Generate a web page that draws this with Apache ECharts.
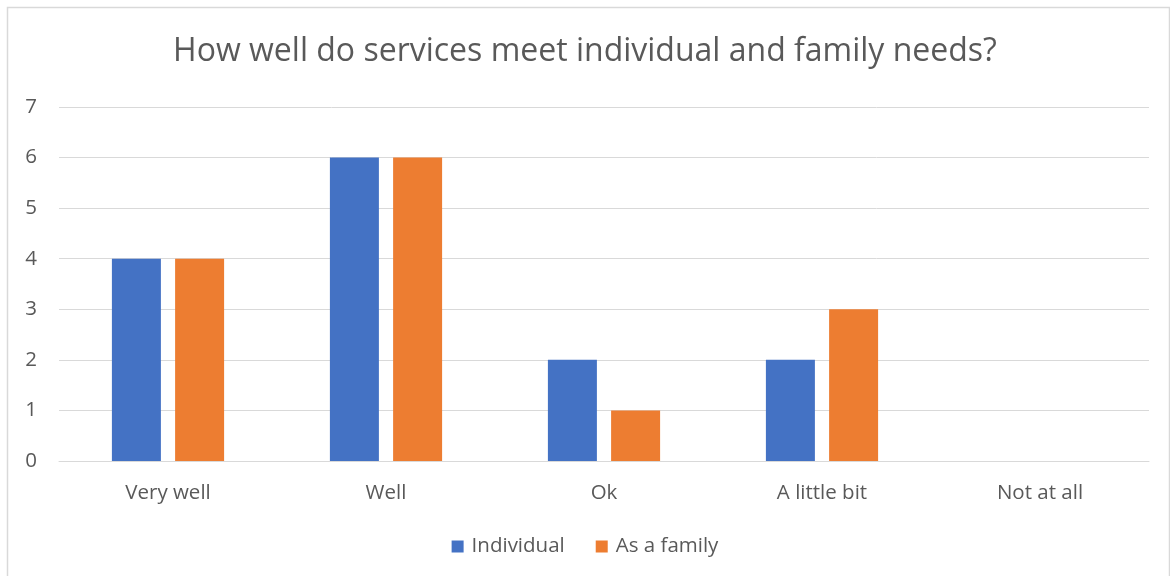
<!DOCTYPE html>
<html>
<head>
<meta charset="utf-8">
<script src="https://cdn.jsdelivr.net/npm/echarts@6/dist/echarts.min.js"></script>
<style>
  html, body { margin: 0; padding: 0; background: #fff; }
  #chart { width: 1170px; height: 576px; }
</style>
</head>
<body>
<div id="chart"></div>
<script>
const titleText = 'How well do services meet individual and family needs?';
const categories = ['Very well', 'Well', 'Ok', 'A little bit', 'Not at all'];
const seriesNames = ['Individual', 'As a family'];
const individual = [4, 6, 2, 2, 0];
const asAFamily = [4, 6, 1, 3, 0];
const colors = ['#4472c4', '#ed7d31'];

const font = '"Open Sans", "Noto Sans", sans-serif';
const textColor = '#595959';

const chart = echarts.init(document.getElementById('chart'), null, { renderer: 'canvas' });
chart.setOption({
  animation: false,
  color: colors,
  graphic: [{
    type: 'rect',
    shape: { x: 7.5, y: 7.5, width: 1162, height: 580 },
    style: { fill: 'none', stroke: '#d9d9d9', lineWidth: 1.5 },
    silent: true
  }],
  title: {
    text: titleText,
    left: 'center',
    top: 31,
    textStyle: { fontFamily: font, fontSize: 32, fontWeight: 'normal', color: textColor }
  },
  legend: {
    bottom: 14,
    left: 'center',
    itemWidth: 12,
    itemHeight: 12,
    itemGap: 31,
    icon: 'rect',
    textStyle: { fontFamily: font, fontSize: 20.5, color: textColor, padding: [0, 0, 0, 3] }
  },
  grid: { left: 59, right: 21, top: 107, bottom: 115, containLabel: false },
  xAxis: {
    type: 'category',
    data: categories,
    axisTick: { show: false },
    axisLine: { lineStyle: { color: '#d9d9d9', width: 1 } },
    axisLabel: { fontFamily: font, fontSize: 20.5, color: textColor, margin: 22 }
  },
  yAxis: {
    type: 'value',
    min: 0,
    max: 7,
    interval: 1,
    axisLine: { show: false },
    axisTick: { show: false },
    splitLine: { lineStyle: { color: '#d9d9d9', width: 1 } },
    axisLabel: { fontFamily: font, fontSize: 20.5, color: textColor, margin: 22 }
  },
  series: [
    { name: seriesNames[0], type: 'bar', data: individual, barWidth: 49, barGap: '29%' },
    { name: seriesNames[1], type: 'bar', data: asAFamily, barWidth: 49, barGap: '29%' }
  ]
});
</script>
</body>
</html>
